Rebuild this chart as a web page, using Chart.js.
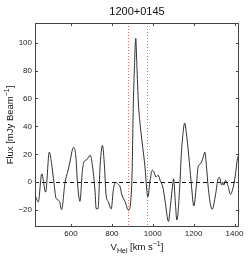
<!DOCTYPE html>
<html>
<head>
<meta charset="utf-8">
<script src="https://cdn.jsdelivr.net/npm/chart.js@4/dist/chart.umd.min.js"></script>
<style>
html,body{margin:0;padding:0;background:#fff;}
#wrap{width:249px;height:258px;}
</style>
</head>
<body>
<div id="wrap"><canvas id="c" width="249" height="258"></canvas></div>
<script>
const chartTitle = "1200+0145";
const velocities = [424,440,457,476,494,505,517,527,543,554,571,583,595,608,613,624,632,644,655,663,676,694,705,718,723,732,743,754,764,771,783,797,808,819,832,840,849,865,881,898,905,910,917,922,930,938,951,962,971,976,987,998,1006,1016,1027,1036,1049,1060,1077,1086,1099,1102,1110,1118,1132,1140,1148,1156,1167,1180,1190,1201,1213,1222,1231,1239,1247,1255,1263,1271,1283,1291,1307,1320,1327,1337,1343,1348,1356,1369,1380,1392,1405,1413,1418,1424];
const flux =       [-9,-14,6,-7,21.6,13.5,-0.7,-11.4,-13.3,-19.5,0,7,14.5,24,25,18,-0.7,-13.6,7,14.5,16,19.3,12,-7,-18.8,-19,13,26.4,11,-8,-14,-19,-4.5,0,-1.6,-3,-9,-14,-20,1.4,56,80,103,85,56,42,25,11,-5.7,-10.5,1.4,8.6,7.4,3.8,5,1.4,-3.3,-13,-28,-17.6,0,2.5,-13,-27,-3.3,20.5,34.8,42.4,32,13,-3.3,-17,-3,11,13,14.5,18,21.6,11,-3,-16.4,-19.3,-9,2.6,3.5,-2,0,-2,1.4,-3,-8.6,-4.5,6,15.7,18.5,15.7];
const xTicks = [600,800,1000,1200,1400];
const yTicks = [-20,0,20,40,60,80,100];
const xRange = [424,1422];
const yRange = [-32,114];
const zeroLevel = [0];
const markerVelocities = [881,974];

const FONT = "'Liberation Sans', Arial, Helvetica, sans-serif";
const fmt = v => (v < 0 ? '\u2212' + Math.abs(v) : String(v));

const decor = {
  id: 'decor',
  beforeDatasetsDraw(chart) {
    const {ctx, chartArea: a, scales: {x, y}} = chart;
    ctx.save();
    ctx.lineWidth = 1;
    ctx.strokeStyle = 'rgba(235,60,60,0.75)';
    ctx.setLineDash([1, 2]);
    markerVelocities.forEach(v => {
      const px = Math.round(x.getPixelForValue(v)) + 0.5;
      ctx.beginPath(); ctx.moveTo(px, a.top); ctx.lineTo(px, a.bottom); ctx.stroke();
    });
    ctx.strokeStyle = '#111';
    ctx.setLineDash([4, 3]);
    zeroLevel.forEach(v => {
      const py = Math.round(y.getPixelForValue(v)) + 0.5;
      ctx.beginPath(); ctx.moveTo(a.left, py); ctx.lineTo(a.right, py); ctx.stroke();
    });
    ctx.restore();
  },
  afterDraw(chart) {
    const {ctx, chartArea: a, scales: {x, y}} = chart;
    ctx.save();
    ctx.strokeStyle = '#444';
    ctx.lineWidth = 1;
    ctx.setLineDash([]);
    const L = Math.round(a.left) + 0.5, R = Math.round(a.right) - 0.5;
    const T = Math.round(a.top) + 0.5, B = Math.round(a.bottom) - 0.5;
    ctx.strokeRect(L, T, R - L, B - T);
    const tl = 2.5;
    ctx.beginPath();
    xTicks.forEach(v => {
      const px = Math.round(x.getPixelForValue(v)) + 0.5;
      ctx.moveTo(px, B); ctx.lineTo(px, B - tl);
      ctx.moveTo(px, T); ctx.lineTo(px, T + tl);
    });
    yTicks.forEach(v => {
      const py = Math.round(y.getPixelForValue(v)) + 0.5;
      ctx.moveTo(L, py); ctx.lineTo(L + tl, py);
      ctx.moveTo(R, py); ctx.lineTo(R - tl, py);
    });
    ctx.stroke();

    ctx.fillStyle = '#111';
    ctx.font = '11px ' + FONT;
    ctx.textAlign = 'center';
    ctx.textBaseline = 'middle';
    ctx.fillText(chartTitle, (a.left + a.right) / 2, 12);

    function drawRich(parts, cx, cy) {
      ctx.textAlign = 'left';
      ctx.textBaseline = 'alphabetic';
      let w = 0;
      parts.forEach(p => { ctx.font = p.size + 'px ' + FONT; p.w = ctx.measureText(p.t).width; w += p.w; });
      let xx = cx - w / 2;
      parts.forEach(p => { ctx.font = p.size + 'px ' + FONT; ctx.fillText(p.t, xx, cy + p.dy); xx += p.w; });
    }
    drawRich([
      {t: 'V', size: 9.5, dy: 0},
      {t: 'Hel', size: 7, dy: 3},
      {t: ' [km s', size: 9.5, dy: 0},
      {t: '\u22121', size: 7, dy: -4},
      {t: ']', size: 9.5, dy: 0}
    ], (a.left + a.right) / 2, 250);
    ctx.save();
    ctx.translate(13, (a.top + a.bottom) / 2);
    ctx.rotate(-Math.PI / 2);
    drawRich([
      {t: 'Flux [mJy Beam', size: 9.5, dy: 0},
      {t: '\u22121', size: 7, dy: -4},
      {t: ']', size: 9.5, dy: 0}
    ], 0, 0);
    ctx.restore();
    ctx.restore();
  }
};

new Chart(document.getElementById('c'), {
  type: 'scatter',
  data: {
    datasets: [{
      data: velocities.map((v, i) => ({x: v, y: flux[i]})),
      showLine: true,
      borderColor: '#1a1a1a',
      borderWidth: 0.9,
      pointRadius: 0,
      cubicInterpolationMode: 'monotone',
      fill: false
    }]
  },
  options: {
    responsive: false,
    animation: false,
    devicePixelRatio: 1,
    layout: {padding: {top: 23, right: 10, left: 0, bottom: 0}},
    plugins: {legend: {display: false}, tooltip: {enabled: false}, title: {display: false}},
    scales: {
      x: {
        type: 'linear', min: xRange[0], max: xRange[1],
        afterBuildTicks: s => { s.ticks = xTicks.map(v => ({value: v})); },
        afterFit: s => { s.height = 31; },
        ticks: {font: {size: 8, family: FONT}, color: '#222', padding: 2, maxRotation: 0, autoSkip: false, callback: v => fmt(v)},
        grid: {display: false, drawTicks: false},
        border: {display: false}
      },
      y: {
        type: 'linear', min: yRange[0], max: yRange[1],
        afterBuildTicks: s => { s.ticks = yTicks.map(v => ({value: v})); },
        afterFit: s => { s.width = 35; },
        ticks: {font: {size: 8, family: FONT}, color: '#222', padding: 3, autoSkip: false, callback: v => fmt(v)},
        grid: {display: false, drawTicks: false},
        border: {display: false}
      }
    }
  },
  plugins: [decor]
});
</script>
</body>
</html>
